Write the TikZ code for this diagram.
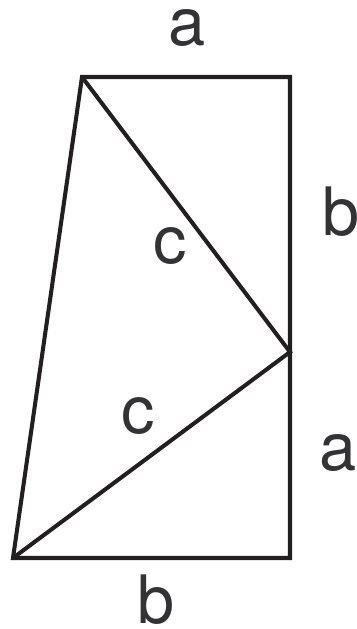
\documentclass[tikz,border=0pt]{standalone}
\usepackage{fontspec}
\setmainfont{TeX Gyre Heros}
\usepackage{tikz}

\definecolor{inkline}{HTML}{231F20}
\definecolor{inktext}{HTML}{333336}

\begin{document}
\begin{tikzpicture}[x=0.02cm, y=-0.02cm,
    side/.style={draw=inkline, line width=2.3pt, line join=miter},
    lbl/.style={inner sep=0pt, text=inktext, font=\fontsize{38}{40}\selectfont}]
        \useasboundingbox (0,0) rectangle (356,629);

        % Corners
        \coordinate (tl) at (82,77);
        \coordinate (tr) at (290,77);
        \coordinate (mr) at (290,352);
        \coordinate (br) at (290,558);
        \coordinate (bl) at (13,558);

        % Outline
        \draw[side] (bl) -- (tl) -- (tr) -- (br) -- cycle;

        % Hypotenuses
        \draw[side] (tl) -- (mr) -- (bl);

        % Labels
        \node[lbl] (atop) at (187,28) {a};
        \node[lbl] (bright) at (341,212) {b};
        \node[lbl] (cup) at (170,246) {c};
        \node[lbl] (clow) at (138,416) {c};
        \node[lbl] (aright) at (338,453) {a};
        \node[lbl] (bbot) at (156,600) {b};
      \end{tikzpicture}
\end{document}
